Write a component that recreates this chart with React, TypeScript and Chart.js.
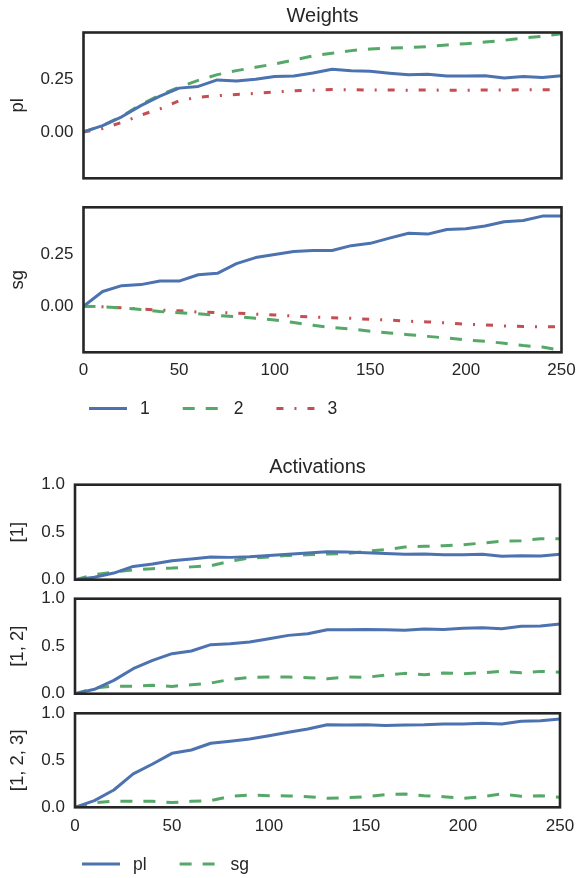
import React, { useEffect, useRef } from "react";
import { Chart, registerables } from "chart.js";

Chart.register(...registerables);

// ---------- data ----------
const STEPS = [0, 10, 20, 30, 40, 50, 60, 70, 80, 90, 100, 110, 120, 130, 140, 150, 160, 170, 180, 190, 200, 210, 220, 230, 240, 250];

const W_PL_1 = [0, 0.03, 0.072, 0.125, 0.17, 0.208, 0.216, 0.247, 0.242, 0.25, 0.263, 0.266, 0.28, 0.298, 0.291, 0.288, 0.279, 0.271, 0.274, 0.266, 0.266, 0.267, 0.256, 0.263, 0.258, 0.267];
const W_PL_2 = [0, 0.03, 0.074, 0.13, 0.175, 0.212, 0.245, 0.272, 0.291, 0.307, 0.323, 0.341, 0.361, 0.374, 0.386, 0.394, 0.398, 0.401, 0.405, 0.413, 0.419, 0.427, 0.435, 0.446, 0.454, 0.466];
const W_PL_3 = [0, 0.016, 0.045, 0.08, 0.11, 0.148, 0.165, 0.172, 0.178, 0.183, 0.19, 0.195, 0.198, 0.201, 0.2, 0.199, 0.199, 0.198, 0.199, 0.198, 0.198, 0.199, 0.199, 0.2, 0.2, 0.201];

const W_SG_1 = [0, 0.07, 0.098, 0.103, 0.12, 0.12, 0.15, 0.157, 0.203, 0.232, 0.247, 0.261, 0.266, 0.266, 0.289, 0.3, 0.325, 0.348, 0.344, 0.366, 0.37, 0.383, 0.403, 0.409, 0.43, 0.43];
const W_SG_2 = [0, -0.003, -0.008, -0.016, -0.025, -0.031, -0.036, -0.044, -0.05, -0.058, -0.066, -0.078, -0.091, -0.102, -0.109, -0.119, -0.128, -0.136, -0.144, -0.152, -0.161, -0.167, -0.177, -0.188, -0.195, -0.211];
const W_SG_3 = [0, -0.003, -0.008, -0.013, -0.019, -0.022, -0.028, -0.03, -0.033, -0.038, -0.042, -0.047, -0.052, -0.055, -0.058, -0.063, -0.066, -0.072, -0.075, -0.08, -0.086, -0.089, -0.094, -0.097, -0.098, -0.099];

const A1_PL = [0, 0.025, 0.07, 0.14, 0.165, 0.2, 0.218, 0.239, 0.235, 0.242, 0.256, 0.267, 0.281, 0.295, 0.291, 0.284, 0.277, 0.267, 0.27, 0.263, 0.263, 0.267, 0.246, 0.253, 0.249, 0.267];
const A1_SG = [0, 0.053, 0.081, 0.102, 0.116, 0.123, 0.135, 0.147, 0.195, 0.228, 0.239, 0.256, 0.263, 0.27, 0.277, 0.298, 0.316, 0.344, 0.351, 0.358, 0.368, 0.386, 0.404, 0.41, 0.432, 0.43];

const A12_PL = [0, 0.046, 0.14, 0.263, 0.351, 0.421, 0.449, 0.516, 0.526, 0.544, 0.579, 0.614, 0.632, 0.674, 0.674, 0.677, 0.674, 0.667, 0.681, 0.677, 0.688, 0.695, 0.684, 0.709, 0.712, 0.733];
const A12_SG = [0, 0.06, 0.081, 0.077, 0.088, 0.077, 0.095, 0.112, 0.151, 0.172, 0.175, 0.175, 0.168, 0.158, 0.175, 0.172, 0.196, 0.214, 0.2, 0.218, 0.21, 0.221, 0.235, 0.221, 0.235, 0.225];

const A123_PL = [0, 0.071, 0.184, 0.355, 0.461, 0.574, 0.61, 0.681, 0.702, 0.727, 0.762, 0.798, 0.833, 0.879, 0.876, 0.879, 0.869, 0.876, 0.879, 0.887, 0.887, 0.894, 0.887, 0.915, 0.922, 0.94];
const A123_SG = [0, 0.05, 0.064, 0.064, 0.064, 0.05, 0.064, 0.071, 0.117, 0.131, 0.124, 0.121, 0.113, 0.096, 0.103, 0.113, 0.135, 0.142, 0.124, 0.113, 0.096, 0.113, 0.142, 0.117, 0.124, 0.106];

const X_TICKS = [0, 50, 100, 150, 200, 250];
const W_Y_TICKS = [0, 0.25];
const A_Y_TICKS = [0, 0.5, 1];
const WEIGHT_LABELS = ["1", "2", "3"];
const ACT_LABELS = ["pl", "sg"];

// ---------- styles ----------
const BLUE = "#4C72B0";
const GREEN = "#55A868";
const RED = "#C44E52";
const INK = "#262626";
const FONT = "'Liberation Sans', Arial, Helvetica, sans-serif";
const DASHED = [12, 11];
const DASHDOT = [7, 11, 2, 11];
const LINE_W = 3;
const W = 576;
const TICK_SIZE = 17;
const LABEL_SIZE = 18.5;
const TITLE_SIZE = 20;
const LEGEND_SIZE = 17.5;

type Series = { label: string; data: number[]; color: string; dash: number[] };

type PanelProps = {
  top: number;
  height: number;
  areaLeft: number;
  areaRight: number;
  areaTop: number;
  areaBottom: number;
  series: Series[];
  yMin: number;
  yMax: number;
  yTicks: number[];
  yDecimals: number;
  yLabel: string;
  showX: boolean;
  xPad?: number;
  title?: string;
  titleMid?: number;
  legendX?: number;
  legendY?: number;
};

const framePlugin = {
  id: "frame",
  afterDatasetsDraw(chart: any) {
    const { ctx, chartArea: a } = chart;
    ctx.save();
    ctx.strokeStyle = INK;
    ctx.lineWidth = 2.6;
    ctx.setLineDash([]);
    ctx.strokeRect(a.left, a.top, a.right - a.left, a.bottom - a.top);
    ctx.restore();
  },
};

const lineLegendPlugin = {
  id: "lineLegend",
  afterDraw(chart: any, _args: any, opts: any) {
    if (!opts || !opts.show) return;
    const { ctx } = chart;
    ctx.save();
    ctx.font = `${LEGEND_SIZE}px ${FONT}`;
    ctx.textBaseline = "middle";
    ctx.textAlign = "left";
    let x = opts.x;
    const y = opts.y;
    chart.data.datasets.forEach((ds: any) => {
      ctx.strokeStyle = ds.borderColor;
      ctx.lineWidth = ds.borderWidth;
      ctx.lineCap = "butt";
      ctx.setLineDash(ds.borderDash || []);
      ctx.beginPath();
      ctx.moveTo(x, y);
      ctx.lineTo(x + opts.lineLen, y);
      ctx.stroke();
      ctx.setLineDash([]);
      ctx.fillStyle = INK;
      const tx = x + opts.textOffset;
      ctx.fillText(ds.label, tx, y + 1);
      x = tx + ctx.measureText(ds.label).width + opts.gap;
    });
    ctx.restore();
  },
};

function Panel(p: PanelProps) {
  const ref = useRef<HTMLCanvasElement | null>(null);

  useEffect(() => {
    const canvas = ref.current;
    if (!canvas) return;
    const xAxisH = p.showX ? 30 : 0;
    const titleLH = TITLE_SIZE * 1.2;
    let padTop = p.areaTop - p.top;
    let titleOpts: any = { display: false };
    if (p.title) {
      const pt = (p.titleMid as number) - p.top - titleLH / 2;
      const pb = p.areaTop - p.top - titleLH - pt;
      padTop = 0;
      titleOpts = {
        display: true,
        text: p.title,
        fullSize: false,
        color: INK,
        font: { family: FONT, size: TITLE_SIZE, weight: "normal", lineHeight: 1.2 },
        padding: { top: pt, bottom: pb },
      };
    }
    const padBottom = p.top + p.height - p.areaBottom - xAxisH;

    const chart = new Chart(canvas, {
      type: "line",
      data: {
        datasets: p.series.map((s) => ({
          label: s.label,
          data: STEPS.map((x, i) => ({ x, y: s.data[i] })),
          borderColor: s.color,
          backgroundColor: s.color,
          borderWidth: LINE_W,
          borderDash: s.dash,
          borderCapStyle: "butt",
          borderJoinStyle: "round",
          pointRadius: 0,
          tension: 0,
          fill: false,
        })),
      },
      options: {
        animation: false,
        responsive: false,
        devicePixelRatio: 1,
        events: [],
        layout: {
          padding: { top: padTop, bottom: padBottom, left: 0, right: W - p.areaRight },
        },
        plugins: {
          legend: { display: false },
          tooltip: { enabled: false },
          title: titleOpts,
          lineLegend: p.legendX != null
            ? { show: true, x: p.legendX, y: (p.legendY as number) - p.top, lineLen: 38, textOffset: 51, gap: 33 }
            : { show: false },
        } as any,
        scales: {
          x: {
            type: "linear",
            min: 0,
            max: 250,
            display: p.showX,
            grid: { display: false, drawTicks: false },
            border: { display: false },
            afterFit: (s: any) => {
              s.height = xAxisH;
              s.paddingLeft = 0;
              s.paddingRight = 0;
            },
            afterBuildTicks: (s: any) => {
              s.ticks = X_TICKS.map((v) => ({ value: v }));
            },
            ticks: {
              color: INK,
              font: { family: FONT, size: TICK_SIZE, lineHeight: 1.2 },
              padding: p.xPad ?? 8,
              maxRotation: 0,
              autoSkip: false,
              callback: (v: any) => String(v),
            },
          },
          y: {
            type: "linear",
            min: p.yMin,
            max: p.yMax,
            grid: { display: false, drawTicks: false },
            border: { display: false },
            afterFit: (s: any) => {
              s.width = p.areaLeft;
              s.paddingTop = 0;
              s.paddingBottom = 0;
            },
            afterBuildTicks: (s: any) => {
              s.ticks = p.yTicks.map((v) => ({ value: v }));
            },
            ticks: {
              color: INK,
              font: { family: FONT, size: TICK_SIZE },
              padding: 10,
              callback: (v: any) => Number(v).toFixed(p.yDecimals),
            },
            title: {
              display: true,
              text: p.yLabel,
              color: INK,
              font: { family: FONT, size: LABEL_SIZE, lineHeight: 1.2 },
              padding: { top: 7, bottom: 0 },
            },
          },
        },
      },
      plugins: [framePlugin, lineLegendPlugin],
    } as any);
    return () => chart.destroy();
  }, []);

  return (
    <canvas
      ref={ref}
      width={W}
      height={p.height}
      style={{ position: "absolute", left: 0, top: p.top, width: W, height: p.height, display: "block" }}
    />
  );
}

export default function App() {
  const wSeries = (a: number[], b: number[], c: number[]): Series[] => [
    { label: WEIGHT_LABELS[0], data: a, color: BLUE, dash: [] },
    { label: WEIGHT_LABELS[1], data: b, color: GREEN, dash: DASHED },
    { label: WEIGHT_LABELS[2], data: c, color: RED, dash: DASHDOT },
  ];
  const aSeries = (a: number[], b: number[]): Series[] => [
    { label: ACT_LABELS[0], data: a, color: BLUE, dash: [] },
    { label: ACT_LABELS[1], data: b, color: GREEN, dash: DASHED },
  ];
  const wy = { yMin: -0.22, yMax: 0.472, yTicks: W_Y_TICKS, yDecimals: 2 };
  const ay = { yMin: 0, yMax: 1, yTicks: A_Y_TICKS, yDecimals: 1 };

  return (
    <div style={{ position: "absolute", left: 0, top: 0, width: W, height: 878, background: "#ffffff", overflow: "hidden" }}>
      <Panel top={0} height={190} areaLeft={83.5} areaRight={561.5} areaTop={32.5} areaBottom={178.3}
        series={wSeries(W_PL_1, W_PL_2, W_PL_3)} {...wy} yLabel="pl" showX={false}
        title="Weights" titleMid={16} />
      <Panel top={190} height={240} areaLeft={83.5} areaRight={561.5} areaTop={207.3} areaBottom={352.3}
        series={wSeries(W_SG_1, W_SG_2, W_SG_3)} {...wy} yLabel="sg" showX={true} xPad={8}
        legendX={89} legendY={408.5} />
      <Panel top={440} height={160} areaLeft={75} areaRight={560} areaTop={484.7} areaBottom={579.7}
        series={aSeries(A1_PL, A1_SG)} {...ay} yLabel="[1]" showX={false}
        title="Activations" titleMid={467.5} />
      <Panel top={578} height={130} areaLeft={75} areaRight={560} areaTop={598.7} areaBottom={693.7}
        series={aSeries(A12_PL, A12_SG)} {...ay} yLabel="[1, 2]" showX={false} />
      <Panel top={695} height={183} areaLeft={75} areaRight={560} areaTop={713.3} areaBottom={807.3}
        series={aSeries(A123_PL, A123_SG)} {...ay} yLabel="[1, 2, 3]" showX={true} xPad={9}
        legendX={82} legendY={864} />
    </div>
  );
}
